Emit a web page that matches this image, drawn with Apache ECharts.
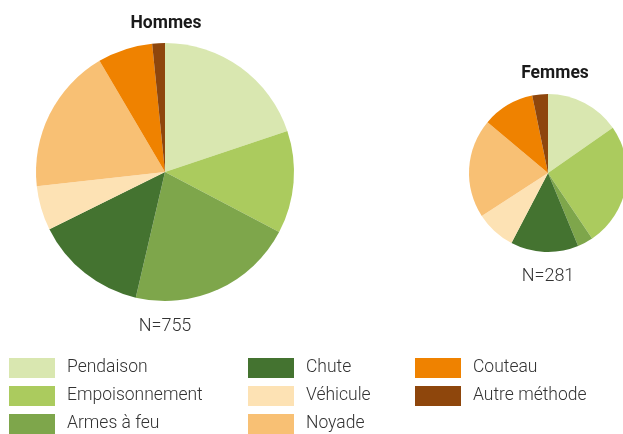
<!DOCTYPE html>
<html>
<head>
<meta charset="utf-8">
<script src="https://cdn.jsdelivr.net/npm/echarts@6/dist/echarts.min.js"></script>
<style>
html,body{margin:0;padding:0;background:#fff;}
#chart{width:623px;height:434px;}
</style>
</head>
<body>
<div id="chart"></div>
<script>
const categories = ['Pendaison','Empoisonnement','Armes à feu','Chute','Véhicule','Noyade','Couteau','Autre méthode'];
const colors = ['#d9e7b0','#abcb5e','#7ea64b','#447330','#fde2b4','#f8c074','#ef8200','#8e460c'];
const hommes = [150,97,158,106,42,138,52,12];
const femmes = [43,71,9,39,23,57,30,9];
const totalHommes = 755;
const totalFemmes = 281;

const chart = echarts.init(document.getElementById('chart'), null, {renderer:'canvas'});
const FONT = 'Roboto, "Noto Sans", sans-serif';

function mkData(vals){
  return categories.map((c,i)=>({name:c, value:vals[i], itemStyle:{color:colors[i]}}));
}
function mkLegend(names, left){
  return {
    data: names, orient:'vertical', left:left, top:355, height:120, padding:0,
    itemWidth:46, itemHeight:20, itemGap:2, icon:'rect',
    selectedMode:false,
    textStyle:{fontFamily:FONT, fontSize:17.5, fontWeight:300, color:'#333', lineHeight:20, padding:[6,0,0,7]}
  };
}
const option = {
  animation:false,
  color: colors,
  title:[
    {text:'Hommes', left:166, top:24, textAlign:'center', textVerticalAlign:'middle', padding:0,
     textStyle:{fontFamily:FONT, fontSize:17.5, fontWeight:'bold', color:'#1a1a1a'}},
    {text:'Femmes', left:555, top:74, textAlign:'center', textVerticalAlign:'middle', padding:0,
     textStyle:{fontFamily:FONT, fontSize:17.5, fontWeight:'bold', color:'#1a1a1a'}},
    {text:'N=' + totalHommes, left:165, top:326, textAlign:'center', textVerticalAlign:'middle', padding:0,
     textStyle:{fontFamily:FONT, fontSize:18, fontWeight:300, color:'#333'}},
    {text:'N=' + totalFemmes, left:548, top:276, textAlign:'center', textVerticalAlign:'middle', padding:0,
     textStyle:{fontFamily:FONT, fontSize:18, fontWeight:300, color:'#333'}}
  ],
  legend:[
    mkLegend(categories.slice(0,3), 9),
    mkLegend(categories.slice(3,6), 248),
    mkLegend(categories.slice(6,8), 415)
  ],
  series:[
    {type:'pie', name:'Hommes', center:[165,172], radius:129, startAngle:90, clockwise:true,
     label:{show:false}, labelLine:{show:false}, emphasis:{disabled:true}, silent:true,
     itemStyle:{borderWidth:0}, data:mkData(hommes)},
    {type:'pie', name:'Femmes', center:[548,173], radius:79, startAngle:90, clockwise:true,
     label:{show:false}, labelLine:{show:false}, emphasis:{disabled:true}, silent:true,
     itemStyle:{borderWidth:0}, data:mkData(femmes)}
  ]
};
chart.setOption(option);
</script>
</body>
</html>
